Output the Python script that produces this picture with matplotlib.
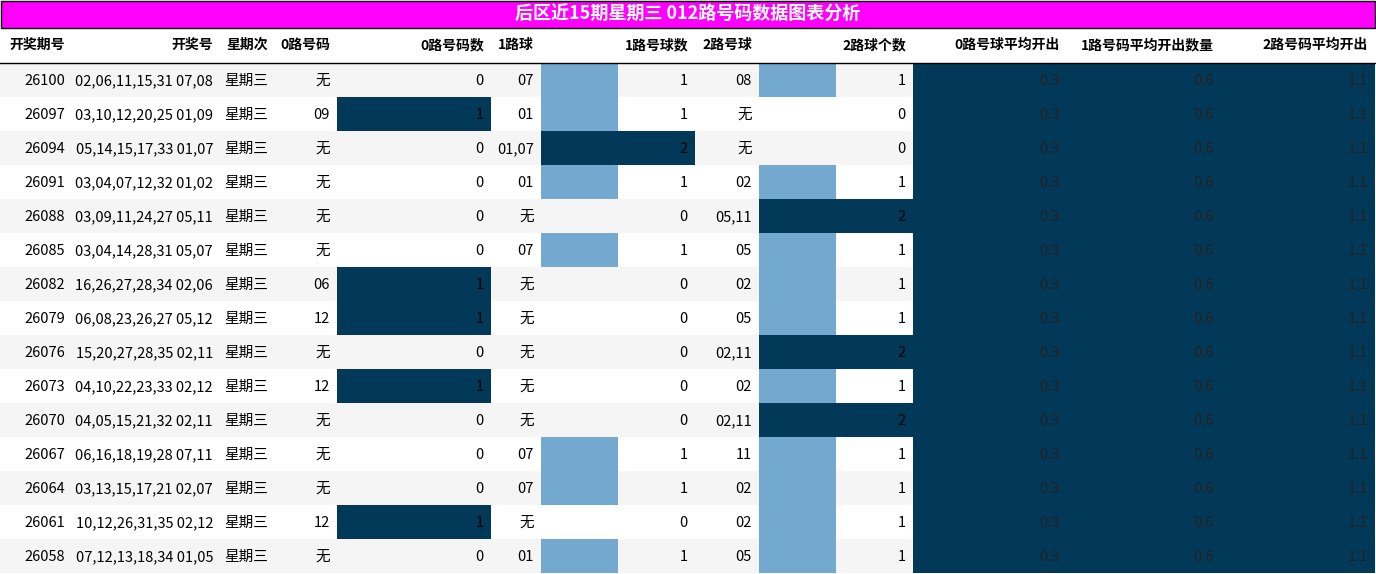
import matplotlib
matplotlib.use("Agg")
import matplotlib.pyplot as plt

plt.rcParams['font.family'] = ['Noto Sans CJK SC', 'DejaVu Sans']

title = "后区近15期星期三 012路号码数据图表分析"
headers = ["开奖期号", "开奖号", "星期次", "0路号码", "0路号码数", "1路球", "1路号球数",
           "2路号球", "2路球个数", "0路号球平均开出", "1路号码平均开出数量", "2路号码平均开出"]

issues = ["26100", "26097", "26094", "26091", "26088", "26085", "26082", "26079",
          "26076", "26073", "26070", "26067", "26064", "26061", "26058"]
numbers = ["02,06,11,15,31 07,08", "03,10,12,20,25 01,09", "05,14,15,17,33 01,07",
           "03,04,07,12,32 01,02", "03,09,11,24,27 05,11", "03,04,14,28,31 05,07",
           "16,26,27,28,34 02,06", "06,08,23,26,27 05,12", "15,20,27,28,35 02,11",
           "04,10,22,23,33 02,12", "04,05,15,21,32 02,11", "06,16,18,19,28 07,11",
           "03,13,15,17,21 02,07", "10,12,26,31,35 02,12", "07,12,13,18,34 01,05"]
weekday = ["星期三"] * 15
road0 = ["无", "09", "无", "无", "无", "无", "06", "12", "无", "12", "无", "无", "无", "12", "无"]
road0_cnt = [0, 1, 0, 0, 0, 0, 1, 1, 0, 1, 0, 0, 0, 1, 0]
road1 = ["07", "01", "01,07", "01", "无", "07", "无", "无", "无", "无", "无", "07", "07", "无", "01"]
road1_cnt = [1, 1, 2, 1, 0, 1, 0, 0, 0, 0, 0, 1, 1, 0, 1]
road2 = ["08", "无", "无", "02", "05,11", "05", "02", "05", "02,11", "02", "02,11", "11", "02", "02", "05"]
road2_cnt = [1, 0, 0, 1, 2, 1, 1, 1, 2, 1, 2, 1, 1, 1, 1]
avg0 = [0.3] * 15
avg1 = [0.6] * 15
avg2 = [1.1] * 15

W, H = 1376, 574
edges = [0, 72, 220, 275, 337, 491, 541, 695, 759, 913, 1067, 1221, 1375]
title_h, head_h, row_h = 27, 36, 34
DARK, LIGHT = "#023858", "#74a9cf"

fig = plt.figure(figsize=(W / 100, H / 100), dpi=100)
ax = fig.add_axes([0, 0, 1, 1])
ax.set_xlim(0, W)
ax.set_ylim(H, 0)
ax.axis("off")

# title bar
ax.add_patch(plt.Rectangle((0.5, 0.5), W - 1.5, title_h, facecolor="#ff00ff", edgecolor="black", lw=1))
ax.text(W / 2, title_h / 2 + 1, title, color="white", fontsize=13, fontweight="bold",
        ha="center", va="center")

# header
hy = title_h + head_h / 2
for i, h in enumerate(headers):
    ax.text(edges[i + 1] - 7, hy, h, fontsize=10, fontweight="bold", ha="right", va="center")
ax.plot([0, W], [title_h + head_h - 0.5] * 2, color="black", lw=1)

y0 = title_h + head_h
centers = [y0 + row_h * (r + 0.5) for r in range(15)]
bg = ["#f5f5f5" if r % 2 == 0 else "white" for r in range(15)]
ax.barh(centers, [W] * 15, height=row_h, left=0, color=bg, zorder=0)


def bars(col, vals, vmax):
    left = edges[col]
    cw = edges[col + 1] - edges[col]
    widths = [v / vmax * cw for v in vals]
    cols = [DARK if v >= vmax else LIGHT for v in vals]
    ax.barh(centers, widths, height=row_h, left=left, color=cols, zorder=1)


bars(4, road0_cnt, max(road0_cnt))
bars(6, road1_cnt, max(road1_cnt))
bars(8, road2_cnt, max(road2_cnt))
bars(9, avg0, max(avg0))
bars(10, avg1, max(avg1))
bars(11, avg2, max(avg2))

columns = [issues, numbers, weekday, road0, road0_cnt, road1, road1_cnt,
           road2, road2_cnt, avg0, avg1, avg2]
for c, vals in enumerate(columns):
    for r, v in enumerate(vals):
        color = "#222222" if c >= 9 else "black"
        ax.text(edges[c + 1] - 7, centers[r] + 1, str(v), fontsize=10.5, ha="right",
                va="center", color=color, zorder=2)

fig.savefig("out.png", dpi=100)
